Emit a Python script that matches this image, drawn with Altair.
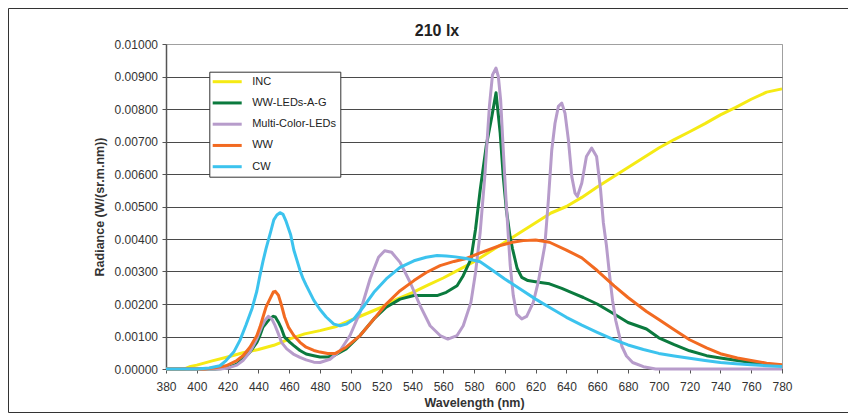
import altair as alt
import pandas as pd

chart_title = ["210 lx"]
x_ticks = list(range(380, 781, 20))
y_ticks = [i / 1000 for i in range(11)]
series_names = ["INC", "WW-LEDs-A-G", "Multi-Color-LEDs", "WW", "CW"]
series_colors = ["#F5EA14", "#0B7A3E", "#B79CCB", "#F26A21", "#3CC3EE"]

inc_wl = [380, 392, 396] + list(range(400, 781, 10))
inc_val = [0, 0, 0.00008, 0.00012, 0.00025, 0.00037, 0.0005, 0.0006, 0.00073, 0.00092,
           0.00108, 0.00118, 0.0013, 0.0015, 0.0017, 0.0019, 0.00215, 0.00235, 0.00258,
           0.0028, 0.00305, 0.0033, 0.0036, 0.0039, 0.0042, 0.0045, 0.0048, 0.0050,
           0.00528, 0.0056, 0.0059, 0.0062, 0.0065, 0.0068, 0.00706, 0.0073, 0.00755,
           0.00782, 0.00805, 0.0083, 0.00852, 0.00862]

wwled_wl = [380, 412, 419, 426, 430, 434.5, 439, 441, 443, 445.5, 447.5, 449.7, 451, 453,
            455, 457, 460.5, 463, 467, 471, 476, 480, 485, 489, 497, 506, 515, 523, 532,
            541, 549, 556, 562, 569, 573, 578, 581, 584, 588, 591.5, 594.3, 597, 599, 601,
            603.4, 605, 606.5, 608, 611, 615, 622, 629, 637, 645, 651, 660, 671, 680, 692,
            700, 710, 720, 731, 740, 751, 760, 770, 780]
wwled_val = [0, 0, 0.00002, 0.00015, 0.00031, 0.00052, 0.00082, 0.00103, 0.00129, 0.00144,
             0.00155, 0.00162, 0.0016, 0.00144, 0.00124, 0.00098, 0.00082, 0.00072, 0.00057,
             0.00046, 0.00041, 0.00037, 0.00037, 0.00041, 0.00062, 0.00103, 0.00154, 0.0019,
             0.00215, 0.00226, 0.00226, 0.00226, 0.00236, 0.00256, 0.00287, 0.00338, 0.0043,
             0.0055, 0.00688, 0.00775, 0.0085, 0.00726, 0.00592, 0.0049, 0.00408, 0.0037,
             0.0034, 0.0031, 0.00282, 0.00272, 0.00267, 0.00262, 0.00248, 0.00232, 0.0022,
             0.002, 0.00169, 0.00143, 0.00123, 0.00096, 0.00075, 0.00056, 0.00041, 0.00034,
             0.00026, 0.0002, 0.00015, 0.00011]

multi_wl = [380, 415, 419.4, 426, 430, 434.5, 439, 442, 444.3, 446.4, 448.6, 450.8, 453, 455,
            458.4, 462.7, 467, 471, 476, 480, 486.5, 493, 499.5, 506, 512.5, 518, 522, 526.5,
            532, 538.5, 545, 551.5, 558, 563, 569, 573, 578, 581, 584, 587, 590, 592, 594.3,
            595.8, 597.3, 599, 600.8, 602.3, 603.5, 605.5, 607.7, 611, 614.2, 618.5, 621.7,
            624, 626, 628.3, 630.5, 632.6, 634.8, 637, 639.1, 641.3, 643.5, 645.6, 647.1, 650,
            653, 656.4, 659.6, 662.2, 664, 666, 668, 670, 672, 674, 676, 679, 683, 690, 698, 780]
multi_val = [0, 0, 0.00002, 0.00012, 0.00026, 0.00052, 0.00093, 0.00129, 0.0015, 0.00162,
             0.00155, 0.00134, 0.00108, 0.00082, 0.00062, 0.00046, 0.00036, 0.00028, 0.00021,
             0.0002, 0.0003, 0.00056, 0.00103, 0.00174, 0.00277, 0.00344, 0.00364, 0.00359,
             0.00328, 0.00267, 0.00195, 0.00133, 0.00103, 0.00092, 0.00103, 0.00133, 0.00205,
             0.00297, 0.0042, 0.00592, 0.00808, 0.00905, 0.00926, 0.009, 0.00828, 0.00674,
             0.0052, 0.00408, 0.0032, 0.00226, 0.00169, 0.00154, 0.00162, 0.00205, 0.00267,
             0.00328, 0.0038, 0.0052, 0.00674, 0.00756, 0.00808, 0.00818, 0.00787, 0.00705,
             0.00592, 0.00541, 0.00531, 0.00572, 0.00654, 0.0068, 0.00654, 0.00551, 0.0045,
             0.0038, 0.0029, 0.0021, 0.0015, 0.0011, 0.0007, 0.0004, 0.0002, 0.00007, 0.0, 0.0]

ww_wl = [380, 405, 411, 419, 426, 430, 434.5, 439, 441, 443, 445, 447.5, 449.7, 451, 453,
         455, 457, 459.5, 463, 467, 471, 476, 480, 485, 490, 497, 506, 515, 523, 532, 541,
         549, 558, 567, 575, 584, 597, 605, 612, 620, 629, 640, 650, 660, 671, 680, 692, 700,
         710, 720, 731, 740, 751, 760, 770, 780]
ww_val = [0, 0, 0.00003, 0.0001, 0.00026, 0.00041, 0.00067, 0.00103, 0.00129, 0.0016,
          0.00191, 0.00216, 0.00237, 0.00239, 0.00227, 0.00196, 0.0016, 0.00129, 0.00103,
          0.00082, 0.00067, 0.00057, 0.00052, 0.00048, 0.00048, 0.00067, 0.00103, 0.00154,
          0.002, 0.00241, 0.00272, 0.00297, 0.00318, 0.00331, 0.0034, 0.00357, 0.0038,
          0.0039, 0.00395, 0.00397, 0.0039, 0.00366, 0.00342, 0.00303, 0.00256, 0.0022,
          0.00177, 0.00152, 0.00121, 0.0009, 0.00065, 0.00047, 0.00034, 0.00026, 0.00018,
          0.00013]

cw_wl = [380, 400, 408, 415, 419, 424, 428, 432, 436, 439, 441, 443, 445, 448, 450, 452,
         454, 456, 458, 461, 463, 465, 467, 469, 471, 476, 480, 484, 489, 493, 497, 502, 508,
         515, 523, 532, 541, 549, 556, 562, 568, 575, 584, 592, 600, 610, 620, 630, 640, 650,
         660, 670, 680, 690, 700, 710, 720, 730, 740, 750, 760, 770, 780]
cw_val = [0, 0, 0.00003, 0.0001, 0.00026, 0.00052, 0.00088, 0.00136, 0.00188, 0.0024,
          0.00288, 0.00332, 0.00371, 0.00423, 0.00459, 0.00474, 0.00481, 0.00476, 0.00454,
          0.00412, 0.00366, 0.00335, 0.00304, 0.00278, 0.00258, 0.00211, 0.00183, 0.0016,
          0.00138, 0.00133, 0.00138, 0.00154, 0.0019, 0.00236, 0.00277, 0.00313, 0.00333,
          0.00344, 0.00349, 0.00348, 0.00345, 0.0034, 0.0033, 0.00304, 0.00277, 0.00246,
          0.00215, 0.00187, 0.00159, 0.00135, 0.00113, 0.00092, 0.00074, 0.0006, 0.00048,
          0.0004, 0.00033, 0.00026, 0.0002, 0.00016, 0.00013, 0.0001, 0.00008]

series = [
    ("INC", inc_wl, inc_val),
    ("WW-LEDs-A-G", wwled_wl, wwled_val),
    ("Multi-Color-LEDs", multi_wl, multi_val),
    ("WW", ww_wl, ww_val),
    ("CW", cw_wl, cw_val),
]
frames = []
for order, (name, wl, val) in enumerate(series):
    assert len(wl) == len(val), (name, len(wl), len(val))
    frames.append(pd.DataFrame({"Series": name, "Wavelength": wl, "Radiance": val, "order": order}))
df = pd.concat(frames, ignore_index=True)

FONT = "Liberation Sans"

lines = alt.Chart(df).mark_line(strokeWidth=3, strokeJoin="round").encode(
    x=alt.X("Wavelength:Q",
            scale=alt.Scale(domain=[380, 780], nice=False, zero=False),
            axis=alt.Axis(values=x_ticks, title="Wavelength (nm)", grid=False,
                          tickSize=4, labelPadding=8, titlePadding=4, labelFlush=False,
                          labelFontSize=12, titleFontSize=12.5, titleFontWeight="bold",
                          labelColor="#333", titleColor="#333",
                          domainColor="#555", tickColor="#555", labelFont=FONT, titleFont=FONT)),
    y=alt.Y("Radiance:Q",
            scale=alt.Scale(domain=[0, 0.01], nice=False),
            axis=alt.Axis(values=y_ticks, format=".5f", title="Radiance (W/(sr.m.nm))",
                          tickSize=4, labelPadding=4.5, titlePadding=8, labelFlush=False,
                          labelFontSize=12, titleFontSize=12.5, titleFontWeight="bold",
                          labelColor="#333", titleColor="#333",
                          gridColor={"condition": {"test": "datum.value >= 0.0099", "value": "#a0a0a0"},
                                     "value": "#4a4a4a"},
                          domainColor="#555", domainWidth=1.5, tickColor="#555",
                          labelFont=FONT, titleFont=FONT)),
    color=alt.Color("Series:N",
                    scale=alt.Scale(domain=series_names, range=series_colors),
                    legend=alt.Legend(title=None, orient="none", legendX=43.3, legendY=27.7,
                                      symbolType="M-2.9,0H2.9", symbolSize=100,
                                      symbolStrokeWidth=3, symbolOffset=7.9, labelOffset=18.5,
                                      rowPadding=8.25, padding=3.5, strokeColor="#333",
                                      fillColor="white", labelFontSize=11, labelFont=FONT,
                                      labelColor="#222")),
    order="order:Q",
)

frame = alt.Chart(pd.DataFrame({"frame": [0]})).mark_rect(
    filled=False, stroke="#333", strokeWidth=1
).encode(
    x=alt.value(-157.5), x2=alt.value(700), y=alt.value(-35.5), y2=alt.value(368.5)
)

title = alt.Chart(pd.DataFrame({"title": chart_title})).mark_text(
    fontSize=16, fontWeight="bold", font=FONT, color="#222",
    align="center", baseline="alphabetic"
).encode(
    text="title:N", x=alt.value(271), y=alt.value(-8)
)

chart = alt.layer(frame, lines, title).properties(
    width=616, height=325,
    autosize=alt.AutoSizeParams(type="none"),
    padding={"left": 158, "top": 36, "right": 66, "bottom": 45},
).configure_view(stroke="#a0a0a0", strokeWidth=1)

chart.save("out.html", embed_options={"renderer": "svg", "actions": False})
